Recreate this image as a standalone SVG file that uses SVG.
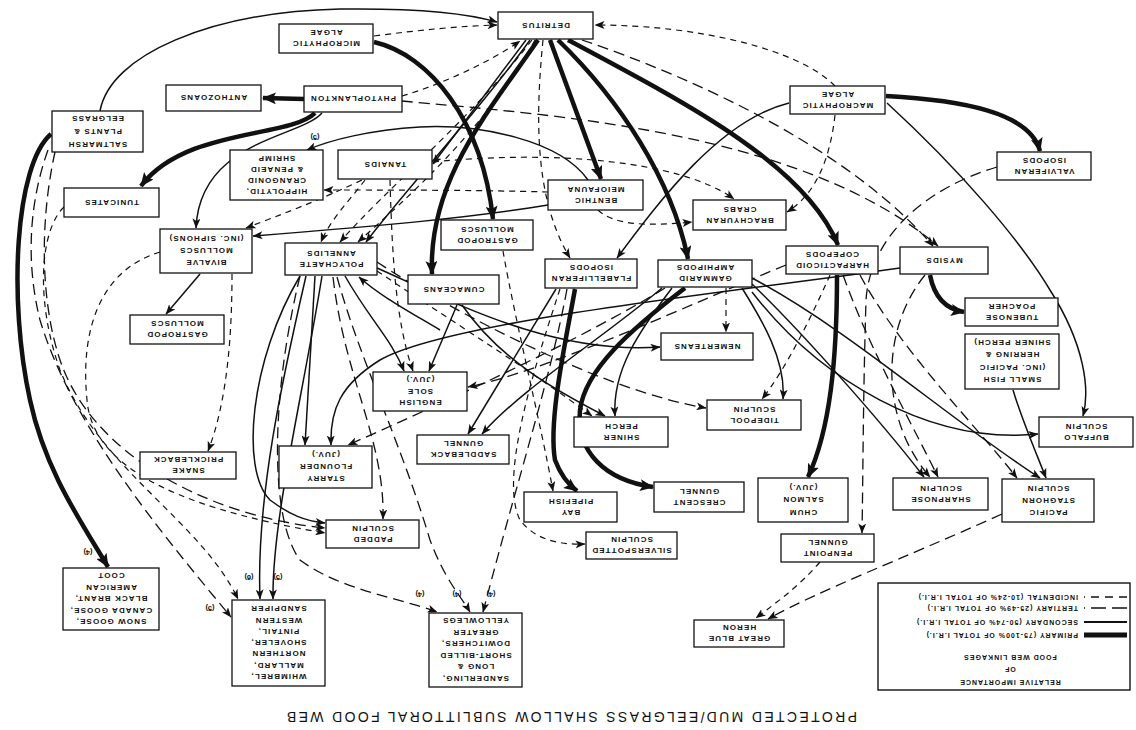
<svg xmlns="http://www.w3.org/2000/svg" width="1136" height="730" viewBox="0 0 1136 730">
<defs>
<style>
.bx{fill:#fff;stroke:#111;stroke-width:1.3}
.n text{font-family:"Liberation Sans",Arial,sans-serif;font-weight:bold;font-size:8px;letter-spacing:1.1px;fill:#111;text-anchor:middle}
.lb{font-family:"Liberation Sans",Arial,sans-serif;font-weight:bold;font-size:7.5px;fill:#111;text-anchor:middle}
#connectors path{fill:none;stroke:#111}
.p{stroke-width:4.5;marker-end:url(#A)}
.s{stroke-width:1.5;marker-end:url(#a)}
.t{stroke-width:1.3;stroke-dasharray:11 6;marker-end:url(#a)}
.i{stroke-width:1.2;stroke-dasharray:6 5;marker-end:url(#a)}
.lg text{font-family:"Liberation Sans",Arial,sans-serif;font-weight:bold;font-size:7px;letter-spacing:1px;fill:#111}
.ttl{font-family:"Liberation Sans",Arial,sans-serif;font-size:14px;fill:#111;text-anchor:middle}
</style>
<marker id="a" viewBox="0 0 10 8" refX="9.5" refY="4" markerWidth="10" markerHeight="8" markerUnits="userSpaceOnUse" orient="auto"><path d="M0,0 L10,4 L0,8 L2.5,4 z" fill="#111"/></marker>
<marker id="A" viewBox="0 0 14 12" refX="13" refY="6" markerWidth="14" markerHeight="12" markerUnits="userSpaceOnUse" orient="auto"><path d="M0,0 L14,6 L0,12 L3,6 z" fill="#111"/></marker>
</defs>
<rect width="1136" height="730" fill="#fff"/>
<g id="connectors">
<path class="p" d="M 304 99 L 263 98"/>
<path class="p" d="M 315 113 C 290 138, 185 128, 141 186"/>
<path class="p" d="M 374 42 C 430 55, 482 120, 493 219"/>
<path class="p" d="M 538 40 C 490 110, 428 180, 432 274"/>
<path class="p" d="M 550 40 L 601 179"/>
<path class="p" d="M 558 40 C 620 100, 672 180, 688 259"/>
<path class="p" d="M 568 40 C 690 105, 805 165, 838 245"/>
<path class="p" d="M 886 96 C 960 100, 1030 112, 1040 151"/>
<path class="p" d="M 930 275 C 934 296, 945 309, 964 312"/>
<path class="p" d="M 51 134 C 15 165, 8 300, 30 400 C 45 470, 80 520, 108 567"/>
<path class="p" d="M 575 289 C 566 340, 548 420, 555 460 C 561 476, 569 485, 577 491"/>
<path class="p" d="M 685 288 C 630 330, 585 370, 580 410 C 576 452, 605 480, 653 487"/>
<path class="p" d="M 837 275 C 837 360, 830 430, 808 477"/>
<path class="s" d="M 100 111 C 110 55, 210 12, 340 9 C 420 8, 470 14, 497 22"/>
<path class="s" d="M 322 113 C 300 138, 200 140, 196 228"/>
<path class="s" d="M 588 180 C 560 140, 480 124, 420 127 C 370 130, 330 140, 307 150"/>
<path class="s" d="M 526 40 L 433 164"/>
<path class="s" d="M 789 103 C 720 120, 660 200, 617 258"/>
<path class="s" d="M 887 103 C 960 170, 1020 240, 1050 290 C 1085 345, 1090 390, 1083 416"/>
<path class="s" d="M 200 274 L 166 314"/>
<path class="s" d="M 315 276 L 305 445"/>
<path class="s" d="M 457 305 L 429 371"/>
<path class="s" d="M 462 305 C 500 360, 555 390, 605 416"/>
<path class="s" d="M 672 288 C 640 330, 612 370, 615 416"/>
<path class="s" d="M 556 289 L 468 434"/>
<path class="s" d="M 662 288 C 600 340, 520 390, 482 434"/>
<path class="s" d="M 742 288 C 762 320, 786 360, 783 399"/>
<path class="s" d="M 752 284 C 800 330, 880 420, 924 477"/>
<path class="s" d="M 752 278 C 850 330, 950 420, 1040 478"/>
<path class="s" d="M 1013 390 C 1022 420, 1035 450, 1046 478"/>
<path class="s" d="M 752 292 C 820 380, 930 445, 1038 434"/>
<path class="s" d="M 377 268 C 450 300, 550 355, 660 347"/>
<path class="s" d="M 345 276 C 370 320, 392 340, 404 371"/>
<path class="s" d="M 306 276 C 282 380, 256 500, 260 599"/>
<path class="s" d="M 322 276 C 302 400, 272 520, 273 599"/>
<path class="s" d="M 300 276 C 250 360, 240 470, 270 500 C 290 515, 305 521, 325 523"/>
<path class="s" d="M 548 205 C 470 218, 380 226, 253 236"/>
<path class="s" d="M 440 330 C 410 312, 380 296, 359 277"/>
<path class="s" d="M 900 268 C 750 290, 450 320, 380 360 C 340 385, 330 410, 331 445"/>
<path class="s" d="M 530 40 C 480 110, 405 190, 366 242"/>
<path class="t" d="M 402 101 C 550 115, 800 130, 938 246"/>
<path class="t" d="M 582 40 C 700 80, 850 150, 933 246"/>
<path class="t" d="M 48 150 C 30 200, 25 260, 40 320 C 70 420, 150 520, 231 617"/>
<path class="t" d="M 55 152 C 40 220, 40 300, 60 360 C 90 450, 200 515, 325 528"/>
<path class="t" d="M 1002 514 C 900 560, 820 590, 768 619"/>
<path class="t" d="M 333 277 C 345 380, 385 440, 383 519"/>
<path class="t" d="M 997 167 C 920 190, 870 240, 866 300 C 863 400, 863 480, 862 533"/>
<path class="t" d="M 843 275 C 870 350, 910 420, 938 477"/>
<path class="t" d="M 860 275 C 900 350, 980 430, 1017 478"/>
<path class="t" d="M 925 275 C 880 330, 880 420, 930 477"/>
<path class="t" d="M 786 265 C 700 300, 550 370, 468 387"/>
<path class="t" d="M 377 262 C 450 310, 600 390, 706 408"/>
<path class="t" d="M 665 288 C 580 340, 450 400, 348 445"/>
<path class="t" d="M 337 277 C 360 360, 400 440, 430 540 C 445 580, 460 595, 470 612"/>
<path class="t" d="M 567 289 C 550 380, 520 470, 483 612"/>
<path class="t" d="M 300 276 C 270 400, 270 520, 300 560 C 340 590, 400 598, 437 612"/>
<path class="i" d="M 374 36 C 420 30, 460 26, 497 25"/>
<path class="i" d="M 402 96 C 440 85, 490 62, 520 41"/>
<path class="i" d="M 835 86 C 800 50, 700 25, 595 25"/>
<path class="i" d="M 835 115 C 830 160, 815 195, 787 212"/>
<path class="i" d="M 543 40 C 535 120, 535 200, 570 258"/>
<path class="i" d="M 598 210 C 615 226, 650 226, 692 222"/>
<path class="i" d="M 433 162 C 550 150, 680 160, 734 199"/>
<path class="i" d="M 365 180 C 350 200, 330 220, 321 242"/>
<path class="i" d="M 532 40 C 470 120, 385 190, 340 242"/>
<path class="i" d="M 535 40 C 485 130, 405 200, 358 242"/>
<path class="i" d="M 503 251 C 515 320, 540 420, 553 491"/>
<path class="i" d="M 726 288 L 726 332"/>
<path class="i" d="M 830 275 C 810 320, 785 370, 762 399"/>
<path class="i" d="M 820 562 C 800 585, 780 600, 756 618"/>
<path class="i" d="M 160 252 C 100 270, 80 330, 87 400 C 92 460, 160 505, 325 533"/>
<path class="i" d="M 560 289 C 530 380, 500 480, 520 520 C 535 540, 560 545, 585 544"/>
<path class="i" d="M 64 207 C 40 230, 35 300, 60 370 C 100 470, 200 520, 238 599"/>
<path class="i" d="M 362 180 C 320 200, 280 215, 246 228"/>
<path class="i" d="M 390 180 C 392 250, 395 320, 413 371"/>
<path class="i" d="M 548 192 C 480 190, 380 190, 324 190"/>
<path class="i" d="M 377 271 C 450 320, 530 370, 592 416"/>
<path class="i" d="M 232 274 C 232 330, 228 400, 208 451"/>
</g>
<g id="n-detritus" class="n" transform="translate(545.5,25.5) rotate(180)"><rect class="bx" x="-47.5" y="-13.5" width="95" height="27"/><text y="2.9">DETRITUS</text></g>
<g id="n-microphytic" class="n" transform="translate(326,38.5) rotate(180)"><rect class="bx" x="-47" y="-14.5" width="94" height="29"/><text y="-2.6">MICROPHYTIC</text><text y="8.4">ALGAE</text></g>
<g id="n-phytoplankton" class="n" transform="translate(353,99) rotate(180)"><rect class="bx" x="-49" y="-13" width="98" height="26"/><text y="2.9">PHYTOPLANKTON</text></g>
<g id="n-anthozoans" class="n" transform="translate(213.5,98) rotate(180)"><rect class="bx" x="-47.5" y="-13" width="95" height="26"/><text y="2.9">ANTHOZOANS</text></g>
<g id="n-saltmarsh" class="n" transform="translate(97.5,131.5) rotate(180)"><rect class="bx" x="-45.5" y="-20.5" width="91" height="41"/><text y="-10.1">SALTMARSH</text><text y="2.9">PLANTS &amp;</text><text y="15.9">EELGRASS</text></g>
<g id="n-shrimp" class="n" transform="translate(276.5,175) rotate(180)"><rect class="bx" x="-46.5" y="-25" width="93" height="50"/><text y="-13.6">HIPPOLYTID,</text><text y="-2.6">CRANGONID</text><text y="8.4">&amp; PENAEID</text><text y="19.4">SHRIMP</text></g>
<g id="n-tunicates" class="n" transform="translate(111.5,202.5) rotate(180)"><rect class="bx" x="-47.5" y="-14.5" width="95" height="29"/><text y="2.9">TUNICATES</text></g>
<g id="n-tanaids" class="n" transform="translate(385,164.5) rotate(180)"><rect class="bx" x="-47" y="-14.5" width="94" height="29"/><text y="2.9">TANAIDS</text></g>
<g id="n-bivalve" class="n" transform="translate(206,251) rotate(180)"><rect class="bx" x="-46" y="-22" width="92" height="44"/><text y="-9.1">BIVALVE</text><text y="2.9">MOLLUSCS</text><text y="14.9">(INC. SIPHONS)</text></g>
<g id="n-polychaete" class="n" transform="translate(331,259) rotate(180)"><rect class="bx" x="-46" y="-16" width="92" height="32"/><text y="-2.6">POLYCHAETE</text><text y="8.4">ANNELIDS</text></g>
<g id="n-gastropod-l" class="n" transform="translate(177,329.5) rotate(180)"><rect class="bx" x="-47" y="-14.5" width="94" height="29"/><text y="-2.6">GASTROPOD</text><text y="8.4">MOLLUSCS</text></g>
<g id="n-gastropod-c" class="n" transform="translate(487,235) rotate(180)"><rect class="bx" x="-46" y="-15" width="92" height="30"/><text y="-2.6">GASTROPOD</text><text y="8.4">MOLLUSCS</text></g>
<g id="n-cumaceans" class="n" transform="translate(453.5,289.5) rotate(180)"><rect class="bx" x="-45.5" y="-14.5" width="91" height="29"/><text y="2.9">CUMACEANS</text></g>
<g id="n-meiofauna" class="n" transform="translate(595.5,195) rotate(180)"><rect class="bx" x="-47.5" y="-15" width="95" height="30"/><text y="-2.6">BENTHIC</text><text y="8.4">MEIOFAUNA</text></g>
<g id="n-brachyuran" class="n" transform="translate(739.5,215) rotate(180)"><rect class="bx" x="-46.5" y="-15" width="93" height="30"/><text y="-2.6">BRACHYURAN</text><text y="8.4">CRABS</text></g>
<g id="n-macrophytic" class="n" transform="translate(837.5,100) rotate(180)"><rect class="bx" x="-47.5" y="-14" width="95" height="28"/><text y="-2.6">MACROPHYTIC</text><text y="8.4">ALGAE</text></g>
<g id="n-valviferan" class="n" transform="translate(1044,166) rotate(180)"><rect class="bx" x="-47" y="-14" width="94" height="28"/><text y="-2.6">VALVIFERAN</text><text y="8.4">ISOPODS</text></g>
<g id="n-flabelliferan" class="n" transform="translate(591,273.5) rotate(180)"><rect class="bx" x="-46" y="-14.5" width="92" height="29"/><text y="-2.6">FLABELLIFERAN</text><text y="8.4">ISOPODS</text></g>
<g id="n-gammarid" class="n" transform="translate(705,273.5) rotate(180)"><rect class="bx" x="-47" y="-13.5" width="94" height="27"/><text y="-2.6">GAMMARID</text><text y="8.4">AMPHIPODS</text></g>
<g id="n-harpacticoid" class="n" transform="translate(832,260) rotate(180)"><rect class="bx" x="-46" y="-14" width="92" height="28"/><text y="-2.6">HARPACTICOID</text><text y="8.4">COPEPODS</text></g>
<g id="n-mysids" class="n" transform="translate(944,260.5) rotate(180)"><rect class="bx" x="-44" y="-13.5" width="88" height="27"/><text y="2.9">MYSIDS</text></g>
<g id="n-tubenose" class="n" transform="translate(1011.5,312) rotate(180)"><rect class="bx" x="-46.5" y="-14" width="93" height="28"/><text y="-2.6">TUBENOSE</text><text y="8.4">POACHER</text></g>
<g id="n-smallfish" class="n" transform="translate(1012,361.5) rotate(180)"><rect class="bx" x="-47" y="-27.5" width="94" height="55"/><text y="-15.85">SMALL FISH</text><text y="-3.35">(INC. PACIFIC</text><text y="9.15">HERRING &amp;</text><text y="21.65">SHINER PERCH)</text></g>
<g id="n-buffalo" class="n" transform="translate(1086,432) rotate(180)"><rect class="bx" x="-47" y="-15" width="94" height="30"/><text y="-2.6">BUFFALO</text><text y="8.4">SCULPIN</text></g>
<g id="n-nemerteans" class="n" transform="translate(707,346.5) rotate(180)"><rect class="bx" x="-46" y="-13.5" width="92" height="27"/><text y="2.9">NEMERTEANS</text></g>
<g id="n-tidepool" class="n" transform="translate(754,415) rotate(180)"><rect class="bx" x="-47" y="-15" width="94" height="30"/><text y="-2.6">TIDEPOOL</text><text y="8.4">SCULPIN</text></g>
<g id="n-englishsole" class="n" transform="translate(420,391.5) rotate(180)"><rect class="bx" x="-47" y="-19.5" width="94" height="39"/><text y="-8.6">ENGLISH</text><text y="2.9">SOLE</text><text y="14.4">(JUV.)</text></g>
<g id="n-shiner" class="n" transform="translate(621,432) rotate(180)"><rect class="bx" x="-47" y="-15" width="94" height="30"/><text y="-2.6">SHINER</text><text y="8.4">PERCH</text></g>
<g id="n-saddleback" class="n" transform="translate(463,449.5) rotate(180)"><rect class="bx" x="-46" y="-14.5" width="92" height="29"/><text y="-2.6">SADDLEBACK</text><text y="8.4">GUNNEL</text></g>
<g id="n-starry" class="n" transform="translate(325.5,467) rotate(180)"><rect class="bx" x="-46.5" y="-21" width="93" height="42"/><text y="-9.1">STARRY</text><text y="2.9">FLOUNDER</text><text y="14.9">(JUV.)</text></g>
<g id="n-snake" class="n" transform="translate(188,465.5) rotate(180)"><rect class="bx" x="-48" y="-13.5" width="96" height="27"/><text y="-2.6">SNAKE</text><text y="8.4">PRICKLEBACK</text></g>
<g id="n-padded" class="n" transform="translate(372.5,534) rotate(180)"><rect class="bx" x="-46.5" y="-14" width="93" height="28"/><text y="-2.6">PADDED</text><text y="8.4">SCULPIN</text></g>
<g id="n-pipefish" class="n" transform="translate(570.5,507) rotate(180)"><rect class="bx" x="-46.5" y="-15" width="93" height="30"/><text y="-2.6">BAY</text><text y="8.4">PIPEFISH</text></g>
<g id="n-crescent" class="n" transform="translate(699,497) rotate(180)"><rect class="bx" x="-45" y="-15" width="90" height="30"/><text y="-2.6">CRESCENT</text><text y="8.4">GUNNEL</text></g>
<g id="n-silverspotted" class="n" transform="translate(631.5,545.5) rotate(180)"><rect class="bx" x="-45.5" y="-13.5" width="91" height="27"/><text y="-2.6">SILVERSPOTTED</text><text y="8.4">SCULPIN</text></g>
<g id="n-chum" class="n" transform="translate(803,500) rotate(180)"><rect class="bx" x="-45" y="-22" width="90" height="44"/><text y="-9.6">CHUM</text><text y="2.9">SALMON</text><text y="15.4">(JUV.)</text></g>
<g id="n-sharpnose" class="n" transform="translate(940.5,494) rotate(180)"><rect class="bx" x="-47.5" y="-16" width="95" height="32"/><text y="-2.6">SHARPNOSE</text><text y="8.4">SCULPIN</text></g>
<g id="n-staghorn" class="n" transform="translate(1048,500.5) rotate(180)"><rect class="bx" x="-46" y="-21.5" width="92" height="43"/><text y="-9.1">PACIFIC</text><text y="2.9">STAGHORN</text><text y="14.9">SCULPIN</text></g>
<g id="n-penpoint" class="n" transform="translate(827.5,548) rotate(180)"><rect class="bx" x="-46.5" y="-14" width="93" height="28"/><text y="-2.6">PENPOINT</text><text y="8.4">GUNNEL</text></g>
<g id="n-heron" class="n" transform="translate(739,633.5) rotate(180)"><rect class="bx" x="-45" y="-13.5" width="90" height="27"/><text y="-2.6">GREAT BLUE</text><text y="8.4">HERON</text></g>
<g id="n-sanderling" class="n" transform="translate(475.5,650) rotate(180)"><rect class="bx" x="-46.5" y="-37" width="93" height="74"/><text y="-25.85">SANDERLING,</text><text y="-14.35">LONG &amp;</text><text y="-2.85">SHORT-BILLED</text><text y="8.65">DOWITCHERS,</text><text y="20.15">GREATER</text><text y="31.65">YELLOWLEGS</text></g>
<g id="n-whimbrel" class="n" transform="translate(278.5,643) rotate(180)"><rect class="bx" x="-46.5" y="-43" width="93" height="86"/><text y="-31">WHIMBREL,</text><text y="-19.7">MALLARD,</text><text y="-8.4">NORTHERN</text><text y="2.9">SHOVELER,</text><text y="14.2">PINTAIL,</text><text y="25.5">WESTERN</text><text y="36.8">SANDPIPER</text></g>
<g id="n-snowgoose" class="n" transform="translate(111,599) rotate(180)"><rect class="bx" x="-48" y="-31" width="96" height="62"/><text y="-20.1">SNOW GOOSE,</text><text y="-8.6">CANADA GOOSE,</text><text y="2.9">BLACK BRANT,</text><text y="14.4">AMERICAN</text><text y="25.9">COOT</text></g>
<g id="labels">
<text class="lb" transform="translate(315,137) rotate(180)" y="2.5">(5)</text>
<text class="lb" transform="translate(88,552) rotate(180)" y="2.5">(4)</text>
<text class="lb" transform="translate(249,577) rotate(180)" y="2.5">(6)</text>
<text class="lb" transform="translate(278,577) rotate(180)" y="2.5">(5)</text>
<text class="lb" transform="translate(210,608) rotate(180)" y="2.5">(5)</text>
<text class="lb" transform="translate(420,594) rotate(180)" y="2.5">(4)</text>
<text class="lb" transform="translate(457,594) rotate(180)" y="2.5">(4)</text>
<text class="lb" transform="translate(491,594) rotate(180)" y="2.5">(4)</text>
</g>
<g id="legend" class="lg" transform="translate(1004,636.5) rotate(180)">
<rect x="-126" y="-53.5" width="252" height="107" fill="#fff" stroke="#111" stroke-width="1.4"/>
<text x="-6" y="-43" text-anchor="middle">RELATIVE IMPORTANCE</text>
<text x="-6" y="-30" text-anchor="middle">OF</text>
<text x="-6" y="-18" text-anchor="middle">FOOD WEB LINKAGES</text>
<line x1="-123" y1="1.5" x2="-80" y2="1.5" stroke="#111" stroke-width="5"/>
<line x1="-123" y1="14.5" x2="-80" y2="14.5" stroke="#111" stroke-width="1.8"/>
<line x1="-123" y1="28.5" x2="-80" y2="28.5" stroke="#111" stroke-width="1.3" stroke-dasharray="15 6"/>
<line x1="-123" y1="39.5" x2="-80" y2="39.5" stroke="#111" stroke-width="1.3" stroke-dasharray="8 6"/>
<text x="-74" y="4">PRIMARY (75-100% OF TOTAL I.R.I.)</text>
<text x="-74" y="17">SECONDARY (50-74% OF TOTAL I.R.I.)</text>
<text x="-74" y="31">TERTIARY (25-49% OF TOTAL I.R.I.)</text>
<text x="-74" y="42">INCIDENTAL (10-24% OF TOTAL I.R.I.)</text>
</g>
<g id="title" transform="translate(572,717) rotate(180)">
<text class="ttl" y="5" textLength="570" lengthAdjust="spacing">PROTECTED MUD/EELGRASS SHALLOW SUBLITTORAL FOOD WEB</text>
</g>
</svg>
